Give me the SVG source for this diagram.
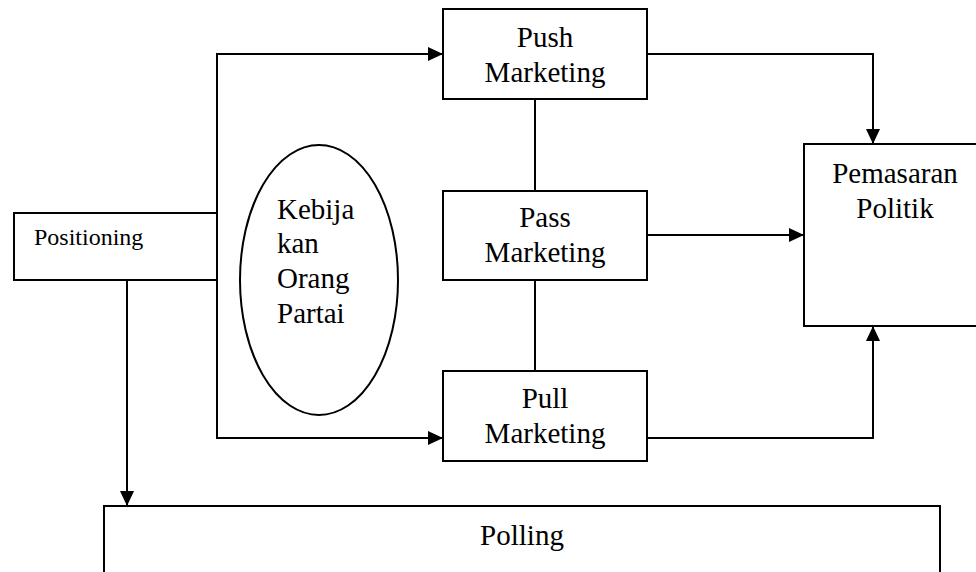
<svg xmlns="http://www.w3.org/2000/svg" width="976" height="572" viewBox="0 0 976 572">
  <style>
    .box { fill: #ffffff; stroke: #000000; stroke-width: 2; }
    .wire { fill: none; stroke: #000000; stroke-width: 2; }
    text { font-family: 'Liberation Serif', 'Times New Roman', Times, serif; font-size: 29px; fill: #000000; }
    .mid { text-anchor: middle; }
    .small { font-size: 24px; }
  </style>
  <defs>
    <marker id="arrow" markerUnits="userSpaceOnUse" markerWidth="16" markerHeight="14" refX="15" refY="7" orient="auto">
      <path d="M0,0 L15,7 L0,14 Z" fill="#000000"/>
    </marker>
  </defs>
  <rect width="976" height="572" fill="#ffffff"/>

  <!-- connectors -->
  <g id="connectors">
    <!-- Positioning branches to Push and Pull -->
    <path class="wire" d="M217,213 L217,54 L443,54" marker-end="url(#arrow)"/>
    <path class="wire" d="M217,280 L217,438 L443,438" marker-end="url(#arrow)"/>
    <!-- Positioning down to Polling -->
    <path class="wire" d="M127,280 L127,506" marker-end="url(#arrow)"/>
    <!-- Push / Pass / Pull links -->
    <path class="wire" d="M535,99 L535,191"/>
    <path class="wire" d="M535,280 L535,371"/>
    <!-- into Pemasaran Politik -->
    <path class="wire" d="M647,54 L873,54 L873,144" marker-end="url(#arrow)"/>
    <path class="wire" d="M647,235 L804,235" marker-end="url(#arrow)"/>
    <path class="wire" d="M647,438 L873,438 L873,326" marker-end="url(#arrow)"/>
  </g>

  <g id="positioning">
    <rect class="box" x="14" y="213" width="203" height="67"/>
    <text class="small" x="34" y="245" font-family="Liberation Serif">Positioning</text>
  </g>

  <g id="kebijakan">
    <ellipse class="box" cx="319" cy="280" rx="79" ry="135"/>
    <text x="277" y="219" font-family="Liberation Serif">Kebija</text>
    <text x="277" y="253" font-family="Liberation Serif">kan</text>
    <text x="277" y="288" font-family="Liberation Serif">Orang</text>
    <text x="277" y="323" font-family="Liberation Serif">Partai</text>
  </g>

  <g id="push">
    <rect class="box" x="443" y="9" width="204" height="90"/>
    <text class="mid" x="545" y="47" font-family="Liberation Serif">Push</text>
    <text class="mid" x="545" y="82" font-family="Liberation Serif">Marketing</text>
  </g>

  <g id="pass">
    <rect class="box" x="443" y="191" width="204" height="89"/>
    <text class="mid" x="545" y="227" font-family="Liberation Serif">Pass</text>
    <text class="mid" x="545" y="262" font-family="Liberation Serif">Marketing</text>
  </g>

  <g id="pull">
    <rect class="box" x="443" y="371" width="204" height="90"/>
    <text class="mid" x="545" y="408" font-family="Liberation Serif">Pull</text>
    <text class="mid" x="545" y="443" font-family="Liberation Serif">Marketing</text>
  </g>

  <g id="pemasaran">
    <rect class="box" x="804" y="144" width="180" height="182"/>
    <text class="mid" x="895" y="183" font-family="Liberation Serif">Pemasaran</text>
    <text class="mid" x="895" y="218" font-family="Liberation Serif">Politik</text>
  </g>

  <g id="polling">
    <rect class="box" x="104" y="506" width="836" height="80"/>
    <text class="mid" x="522" y="545" font-family="Liberation Serif">Polling</text>
  </g>
</svg>
